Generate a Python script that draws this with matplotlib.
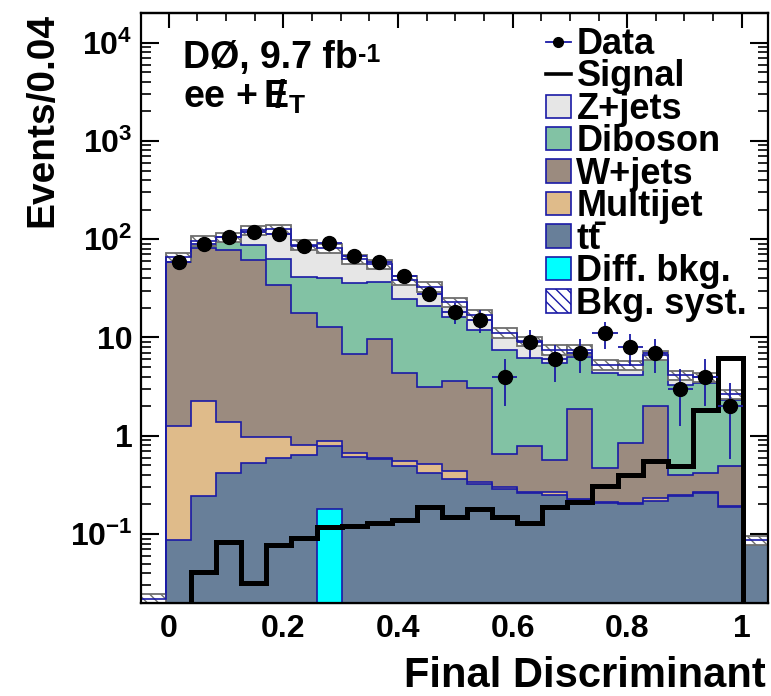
import numpy as np
import matplotlib
matplotlib.use("Agg")
import matplotlib.pyplot as plt
from matplotlib.patches import Patch
from matplotlib.lines import Line2D
from matplotlib.ticker import (MultipleLocator, LogLocator, FuncFormatter,
                               NullFormatter)

plt.rcParams['font.family'] = ['Liberation Sans', 'DejaVu Sans']
plt.rcParams['font.weight'] = 'bold'
plt.rcParams['mathtext.fontset'] = 'custom'
plt.rcParams['mathtext.rm'] = 'Liberation Sans:bold'
plt.rcParams['mathtext.bf'] = 'Liberation Sans:bold'
plt.rcParams['mathtext.it'] = 'Liberation Sans:bold'
plt.rcParams['mathtext.default'] = 'bf'
plt.rcParams['hatch.linewidth'] = 1.0

# ---- histogram contents, 25 bins of width 0.04 ----
bin_width = 0.04
n_bins = 25

ttbar = [0, 0.087, 0.245, 0.42, 0.53, 0.60, 0.64, 0.79, 0.61, 0.58, 0.49, 0.42,
         0.36, 0.325, 0.29, 0.26, 0.25, 0.224, 0.206, 0.20, 0.215, 0.245, 0.264,
         0.188, 0.083]
multijet = [0, 1.17, 1.99, 0.97, 0.45, 0.38, 0.17, 0.10, 0.065, 0.01, 0.06, 0.09,
            0.08, 0.01, 0.01, 0.005, 0.02, 0.005, 0.005, 0.005, 0.015, 0.005,
            0.006, 0.003, 0]
wjets = [0, 57.7, 78.8, 75.6, 60.5, 33, 16.9, 12.0, 6.1, 9.0, 3.85, 2.66, 3.21,
         2.72, 0.35, 0.53, 0.30, 1.64, 0.26, 0.63, 1.80, 0.15, 0.15, 0.30, 0]
diboson = [0, 3, 7, 18, 26, 28.5, 23.3, 27.1, 28.8, 27.4, 20.1, 17.8, 12.65, 8.85,
           6.75, 5.36, 4.99, 4.53, 3.87, 3.33, 3.97, 2.9, 3.01, 1.83, 0]
zjets = [0.022, 3.6, 8.8, 10, 36.5, 63.5, 46.5, 41, 27.4, 19, 14, 12, 6.6, 5.1,
         3.8, 2.95, 1.94, 1.1, 0.92, 1.03, 0.6, 0.83, 0.52, 0.33, 0.004]
diff_bkg = [0, 0, 0, 0, 0, 0, 0, 0.18, 0, 0, 0, 0, 0, 0, 0, 0, 0, 0, 0, 0, 0, 0,
            0, 0, 0]
signal = [0, 0, 0.041, 0.082, 0.032, 0.078, 0.091, 0.117, 0.121, 0.129, 0.139,
          0.19, 0.15, 0.18, 0.149, 0.129, 0.19, 0.21, 0.31, 0.40, 0.55, 0.49,
          1.83, 6.15, 0]
data = [0, 58, 90, 106, 119, 113, 85, 92, 68, 59, 42, 28, 18, 15, 4, 9, 6, 7, 11,
        8, 7, 3, 4, 2, 0]
syst_frac = 0.11

x_ticks = [0, 0.2, 0.4, 0.6, 0.8, 1.0]
legend_labels = ['Data', 'Signal', 'Z+jets', 'Diboson', 'W+jets', 'Multijet',
                 'tt\u0304', 'Diff. bkg.', 'Bkg. syst.']

# ---- styles ----
outline = '#1a1aa6'
colors = {
    'tt': '#687f99',
    'mj': '#dfbb8a',
    'w': '#9b8b7f',
    'vv': '#82c2a4',
    'z': '#e6e6e6',
    'diff': '#00ffff',
}
floor = 1e-4

edges = np.arange(n_bins + 1) * bin_width
centers = edges[:-1] + bin_width / 2

# discriminant axis scale relative to the bin frame
def u_to_x(u):
    return 1.0942 * u - 0.0484

def x_to_u(x):
    return (x + 0.0484) / 1.0942

fig = plt.figure(figsize=(7.71, 6.96), dpi=100)
ax = fig.add_axes([141 / 771, 1 - 602.7 / 696, 627 / 771, 590 / 696])
ax.set_yscale('log')
ax.set_xlim(0, 1)
ax.set_ylim(0.02, 2.02e4)

stack = np.array([ttbar, multijet, wjets, diboson, zjets], dtype=float)
cum = np.cumsum(stack, axis=0)
stack_colors = [colors['tt'], colors['mj'], colors['w'], colors['vv'], colors['z']]

for i in reversed(range(len(stack))):
    ax.stairs(np.clip(cum[i], floor, None), edges, baseline=floor, fill=True,
              facecolor=stack_colors[i], edgecolor=outline, linewidth=1.2,
              zorder=2)

# background systematic band
total = cum[-1]
lo = total * (1 - syst_frac)
hi = total * (1 + syst_frac)
ax.bar(centers, hi - lo, bottom=lo, width=bin_width, facecolor='white',
       edgecolor='#6e6e6e', hatch='\\\\\\', linewidth=1.3, zorder=3)
ax.stairs(total, edges, baseline=None, color=outline, linewidth=1.2, zorder=4)

# difference background
ax.stairs(np.clip(np.array(diff_bkg, float), floor, None), edges, baseline=floor,
          fill=True, facecolor=colors['diff'], edgecolor=outline, linewidth=1.2,
          zorder=5)

# signal
ax.stairs(np.clip(np.array(signal, float), floor, None), edges, baseline=floor,
          color='black', linewidth=3.6, zorder=6)

# data
d = np.array(data, float)
m = d > 0
ax.errorbar(centers[m], d[m], yerr=np.sqrt(d[m]), xerr=bin_width / 2,
            fmt='o', color='black', ms=10, ecolor=outline,
            elinewidth=1.3, capsize=0, zorder=10)

# ---- axes decoration ----
for s in ax.spines.values():
    s.set_linewidth(1.6)
    s.set_zorder(12)

ax.tick_params(axis='x', which='both', bottom=False, top=False,
               labelbottom=False)
ax.yaxis.set_major_locator(LogLocator(base=10, numticks=15))
ax.yaxis.set_minor_locator(LogLocator(base=10, subs=np.arange(2, 10), numticks=15))
ax.yaxis.set_minor_formatter(NullFormatter())

def ylab(v, pos):
    e = int(round(np.log10(v)))
    if e == 0:
        return '1'
    if e == 1:
        return '10'
    return r'$10^{%d}$' % e

ax.yaxis.set_major_formatter(FuncFormatter(ylab))
ax.tick_params(axis='y', which='major', direction='in', length=13, width=1.5,
               right=True, labelsize=23, pad=6)
ax.tick_params(axis='y', which='minor', direction='in', length=7, width=1.2,
               right=True)

for side in ('bottom', 'top'):
    sec = ax.secondary_xaxis(side, functions=(u_to_x, x_to_u))
    sec.set_xticks(x_ticks)
    sec.xaxis.set_minor_locator(MultipleLocator(0.05))
    sec.xaxis.set_major_formatter(FuncFormatter(lambda v, p: f'{v:g}'))
    sec.tick_params(which='major', direction='in', length=11, width=1.5,
                    labelsize=23, pad=8)
    sec.tick_params(which='minor', direction='in', length=6, width=1.2)
    if side == 'top':
        sec.tick_params(labeltop=False)
    for s in sec.spines.values():
        s.set_linewidth(1.6)

ax.set_ylabel('Events/0.04', fontsize=28, fontweight='bold', loc='top')
ax.yaxis.set_label_coords(-0.128, 1.0)
ax.set_xlabel('Final Discriminant', fontsize=30, fontweight='bold', loc='right')
ax.xaxis.set_label_coords(0.997, -0.09)

lumi = ax.text(0.067, 0.906, 'DØ, 9.7 fb', transform=ax.transAxes,
               fontsize=27, fontweight='bold', va='baseline', ha='left')
ax.annotate('-1', xy=(1.0, 0.93), xycoords=lumi, ha='left', va='top',
            fontsize=18, fontweight='bold')
ax.text(0.067, 0.8385, r'ee + $\:/\!\!\!\!E_{T}$', transform=ax.transAxes,
        fontsize=27, fontweight='bold', va='baseline', ha='left')

handles = [
    Line2D([], [], color=outline, lw=1.3, marker='o', ms=7,
           mfc='black', mec='black'),
    Line2D([], [], color='black', lw=2.6),
    Patch(facecolor=colors['z'], edgecolor=outline, lw=1.2),
    Patch(facecolor=colors['vv'], edgecolor=outline, lw=1.2),
    Patch(facecolor=colors['w'], edgecolor=outline, lw=1.2),
    Patch(facecolor=colors['mj'], edgecolor=outline, lw=1.2),
    Patch(facecolor=colors['tt'], edgecolor=outline, lw=1.2),
    Patch(facecolor=colors['diff'], edgecolor=outline, lw=1.2),
    Patch(facecolor='white', edgecolor=outline, hatch='\\\\\\', lw=1.2),
]
leg = ax.legend(handles, legend_labels, loc='upper left',
                bbox_to_anchor=(0.6455, 0.976), frameon=False,
                prop={'weight': 'bold', 'size': 26}, handlelength=0.7,
                handleheight=0.61, handletextpad=0.15, labelspacing=-0.07,
                borderpad=0, borderaxespad=0)
leg.set_zorder(20)

fig.savefig('out.png', dpi=100)
